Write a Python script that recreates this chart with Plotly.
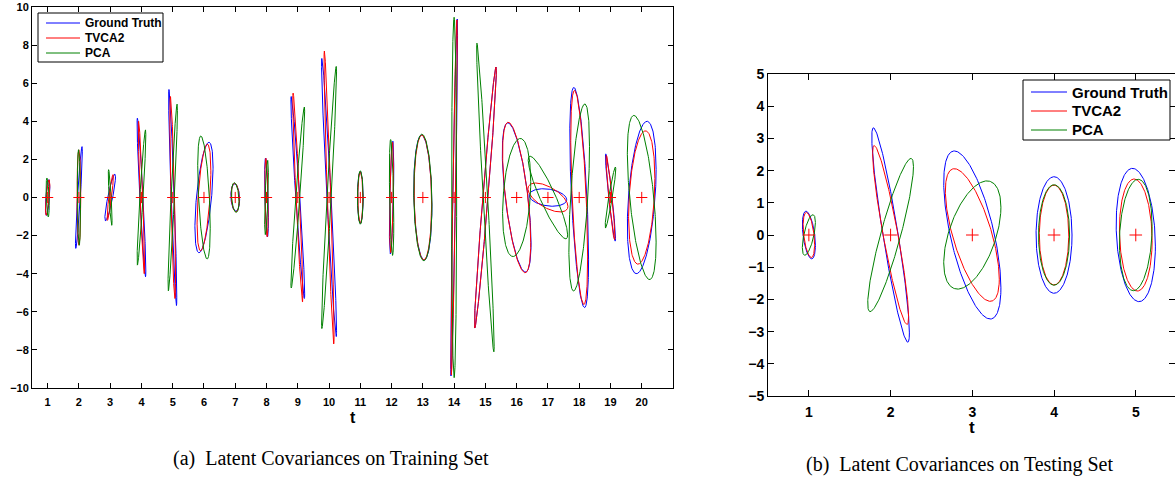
import numpy as np
import plotly.graph_objects as go

# ---------------- data: training set (t = 1..20) ----------------
train_t = list(range(1, 21))
# each ellipse: half-width along t, half-height, t-offset of the topmost point
train_gt_halfwidth = [0.07, 0.11, 0.17, 0.14, 0.13, 0.29, 0.14, 0.06, 0.22, 0.24,
                      0.09, 0.07, 0.29, 0.11, 0.35, 0.46, 0.60, 0.30, 0.16, 0.46]
train_gt_halfheight = [0.94, 2.67, 1.23, 4.16, 5.67, 2.90, 0.72, 2.07, 5.30, 7.30,
                       1.36, 2.96, 3.28, 9.37, 6.85, 3.92, 0.46, 5.78, 2.29, 4.00]
train_gt_topshift = [0.04, 0.10, 0.15, -0.13, -0.12, 0.16, -0.02, -0.03, -0.21, -0.23,
                     0.00, 0.04, -0.04, 0.10, 0.34, -0.28, -0.15, -0.17, -0.15, 0.17]

train_tvca_halfwidth = [0.07, 0.06, 0.10, 0.10, 0.09, 0.22, 0.13, 0.05, 0.16, 0.16,
                        0.08, 0.06, 0.28, 0.10, 0.35, 0.45, 0.64, 0.27, 0.14, 0.42]
train_tvca_halfheight = [0.93, 2.50, 1.20, 4.00, 5.30, 2.80, 0.75, 2.06, 5.48, 7.69,
                         1.34, 2.90, 3.27, 9.32, 6.85, 3.95, 0.76, 5.62, 2.21, 3.50]
train_tvca_topshift = [0.05, 0.00, 0.09, -0.09, -0.07, 0.11, -0.02, -0.02, -0.15, -0.15,
                       0.00, 0.03, -0.03, 0.09, 0.34, -0.27, -0.39, -0.15, -0.13, 0.12]

train_pca_halfwidth = [0.05, 0.05, 0.06, 0.14, 0.15, 0.20, 0.12, 0.06, 0.22, 0.24,
                       0.09, 0.07, 0.29, 0.08, 0.28, 0.45, 0.63, 0.33, 0.17, 0.46]
train_pca_halfheight = [1.02, 2.51, 1.46, 3.55, 4.90, 3.23, 0.78, 1.95, 4.75, 6.88,
                        1.40, 3.04, 3.32, 9.46, 8.10, 3.10, 2.17, 4.91, 1.60, 4.31]
train_pca_topshift = [-0.02, -0.01, -0.05, 0.13, 0.14, -0.10, -0.03, 0.04, 0.21, 0.23,
                      0.00, -0.03, -0.03, 0.00, -0.27, 0.12, -0.57, 0.18, 0.16, -0.25]

# ---------------- data: testing set (t = 1..5) ----------------
test_t = [1, 2, 3, 4, 5]
test_gt_halfwidth = [0.08, 0.23, 0.35, 0.22, 0.24]
test_gt_halfheight = [0.74, 3.33, 2.61, 1.81, 2.07]
test_gt_topshift = [-0.035, -0.21, -0.22, 0.00, -0.04]

test_tvca_halfwidth = [0.07, 0.22, 0.33, 0.18, 0.20]
test_tvca_halfheight = [0.70, 2.78, 2.06, 1.55, 1.74]
test_tvca_topshift = [-0.03, -0.20, -0.22, 0.00, -0.02]

test_pca_halfwidth = [0.08, 0.28, 0.35, 0.19, 0.20]
test_pca_halfheight = [0.63, 2.38, 1.68, 1.56, 1.73]
test_pca_topshift = [0.05, 0.25, 0.18, 0.00, 0.03]

series_names = ["Ground Truth", "TVCA2", "PCA"]
series_colors = ["#0000ff", "#ff0000", "#008000"]

W, H = 1175, 480


def px(x):
    return x / W


def py(y):
    return 1 - y / H


def ellipse_path(ts, hw, hh, shift, n=241):
    th = np.linspace(0, 2 * np.pi, n)
    xs, ys = [], []
    for t, w, h, d in zip(ts, hw, hh, shift):
        phi = np.arccos(np.clip(d / w, -1, 1))
        xs += list(t + w * np.cos(th)) + [None]
        ys += list(h * np.cos(th - phi)) + [None]
    return xs, ys


fig = go.Figure()

train_sets = [
    (train_gt_halfwidth, train_gt_halfheight, train_gt_topshift),
    (train_tvca_halfwidth, train_tvca_halfheight, train_tvca_topshift),
    (train_pca_halfwidth, train_pca_halfheight, train_pca_topshift),
]
test_sets = [
    (test_gt_halfwidth, test_gt_halfheight, test_gt_topshift),
    (test_tvca_halfwidth, test_tvca_halfheight, test_tvca_topshift),
    (test_pca_halfwidth, test_pca_halfheight, test_pca_topshift),
]

for name, col, (hw, hh, sh) in zip(series_names, series_colors, train_sets):
    xs, ys = ellipse_path(train_t, hw, hh, sh)
    fig.add_trace(go.Scatter(x=xs, y=ys, mode="lines", name=name,
                             line=dict(color=col, width=1), xaxis="x", yaxis="y",
                             showlegend=False, hoverinfo="skip"))
fig.add_trace(go.Scatter(x=train_t, y=[0] * len(train_t), mode="markers",
                         marker=dict(symbol="cross-thin", size=8,
                                     line=dict(color="#ff0000", width=1)),
                         showlegend=False, xaxis="x", yaxis="y"))

for name, col, (hw, hh, sh) in zip(series_names, series_colors, test_sets):
    xs, ys = ellipse_path(test_t, hw, hh, sh)
    fig.add_trace(go.Scatter(x=xs, y=ys, mode="lines", name=name,
                             line=dict(color=col, width=1), xaxis="x2", yaxis="y2",
                             showlegend=False, hoverinfo="skip"))
fig.add_trace(go.Scatter(x=test_t, y=[0] * len(test_t), mode="markers",
                         marker=dict(symbol="cross-thin", size=9,
                                     line=dict(color="#ff0000", width=1)),
                         showlegend=False, xaxis="x2", yaxis="y2"))

axis_common = dict(showgrid=False, zeroline=False, showline=True, linecolor="black",
                   linewidth=1, ticks="inside", mirror="ticks", tickcolor="black",
                   automargin=False)

# ---------------- legend boxes (drawn in paper pixels) ----------------
shapes = []
annotations = []


def add_legend(box, line_x0, line_x1, text_x, rows_y, fsize):
    x0, y0, x1, y1 = box
    shapes.append(dict(type="rect", xref="paper", yref="paper",
                       x0=px(x0), x1=px(x1), y0=py(y0), y1=py(y1),
                       line=dict(color="black", width=1), fillcolor="white",
                       layer="above"))
    for name, col, ry in zip(series_names, series_colors, rows_y):
        shapes.append(dict(type="line", xref="paper", yref="paper",
                           x0=px(line_x0), x1=px(line_x1), y0=py(ry), y1=py(ry),
                           line=dict(color=col, width=1), layer="above"))
        annotations.append(dict(text=name, x=px(text_x), y=py(ry), xref="paper",
                                yref="paper", xanchor="left", yanchor="middle",
                                showarrow=False,
                                font=dict(size=fsize, weight="bold")))


add_legend((38, 13, 163, 62), 46, 80, 83, [23, 38, 53], 12)
add_legend((1023, 80, 1170, 140), 1031, 1067, 1070, [92, 111, 130], 15)

annotations += [
    dict(text="t", x=px(353), y=py(417), xref="paper", yref="paper",
         xanchor="center", yanchor="middle",
         showarrow=False, font=dict(size=16, weight="bold")),
    dict(text="t", x=px(972), y=py(427), xref="paper", yref="paper",
         xanchor="center", yanchor="middle",
         showarrow=False, font=dict(size=17, weight="bold")),
    dict(text="(a)\u2002Latent Covariances on Training Set", x=px(331), y=py(458),
         xref="paper", yref="paper", xanchor="center", yanchor="middle",
         showarrow=False,
         font=dict(size=20, family="Liberation Serif, Times New Roman, serif")),
    dict(text="(b)\u2002Latent Covariances on Testing Set", x=px(959), y=py(464),
         xref="paper", yref="paper", xanchor="center", yanchor="middle",
         showarrow=False,
         font=dict(size=20, family="Liberation Serif, Times New Roman, serif")),
]

fig.update_layout(
    width=W, height=H,
    margin=dict(l=0, r=0, t=0, b=0, autoexpand=False),
    paper_bgcolor="white", plot_bgcolor="white",
    font=dict(family="Liberation Sans, Arial, sans-serif", color="black"),
    showlegend=False,
    xaxis=dict(domain=[px(32), px(673)], range=[0.5, 21], tickmode="array",
               tickvals=train_t, ticklen=5, anchor="y", ticklabelstandoff=4,
               tickfont=dict(size=11, weight="bold"), **axis_common),
    yaxis=dict(domain=[py(388), py(7)], range=[-10, 10], dtick=2,
               ticklen=5, anchor="x",
               tickfont=dict(size=11, weight="bold"), **axis_common),
    xaxis2=dict(domain=[px(768), 1.0], range=[0.5, 5.48], tickmode="array",
                tickvals=test_t, ticklen=6, anchor="y2", ticklabelstandoff=3,
                tickfont=dict(size=14, weight="bold"), **axis_common),
    yaxis2=dict(domain=[py(396), py(74)], range=[-5, 5], dtick=1,
                ticklen=6, anchor="x2",
                tickfont=dict(size=14, weight="bold"), **axis_common),
    shapes=shapes,
    annotations=annotations,
)

fig.write_html("out.html")
